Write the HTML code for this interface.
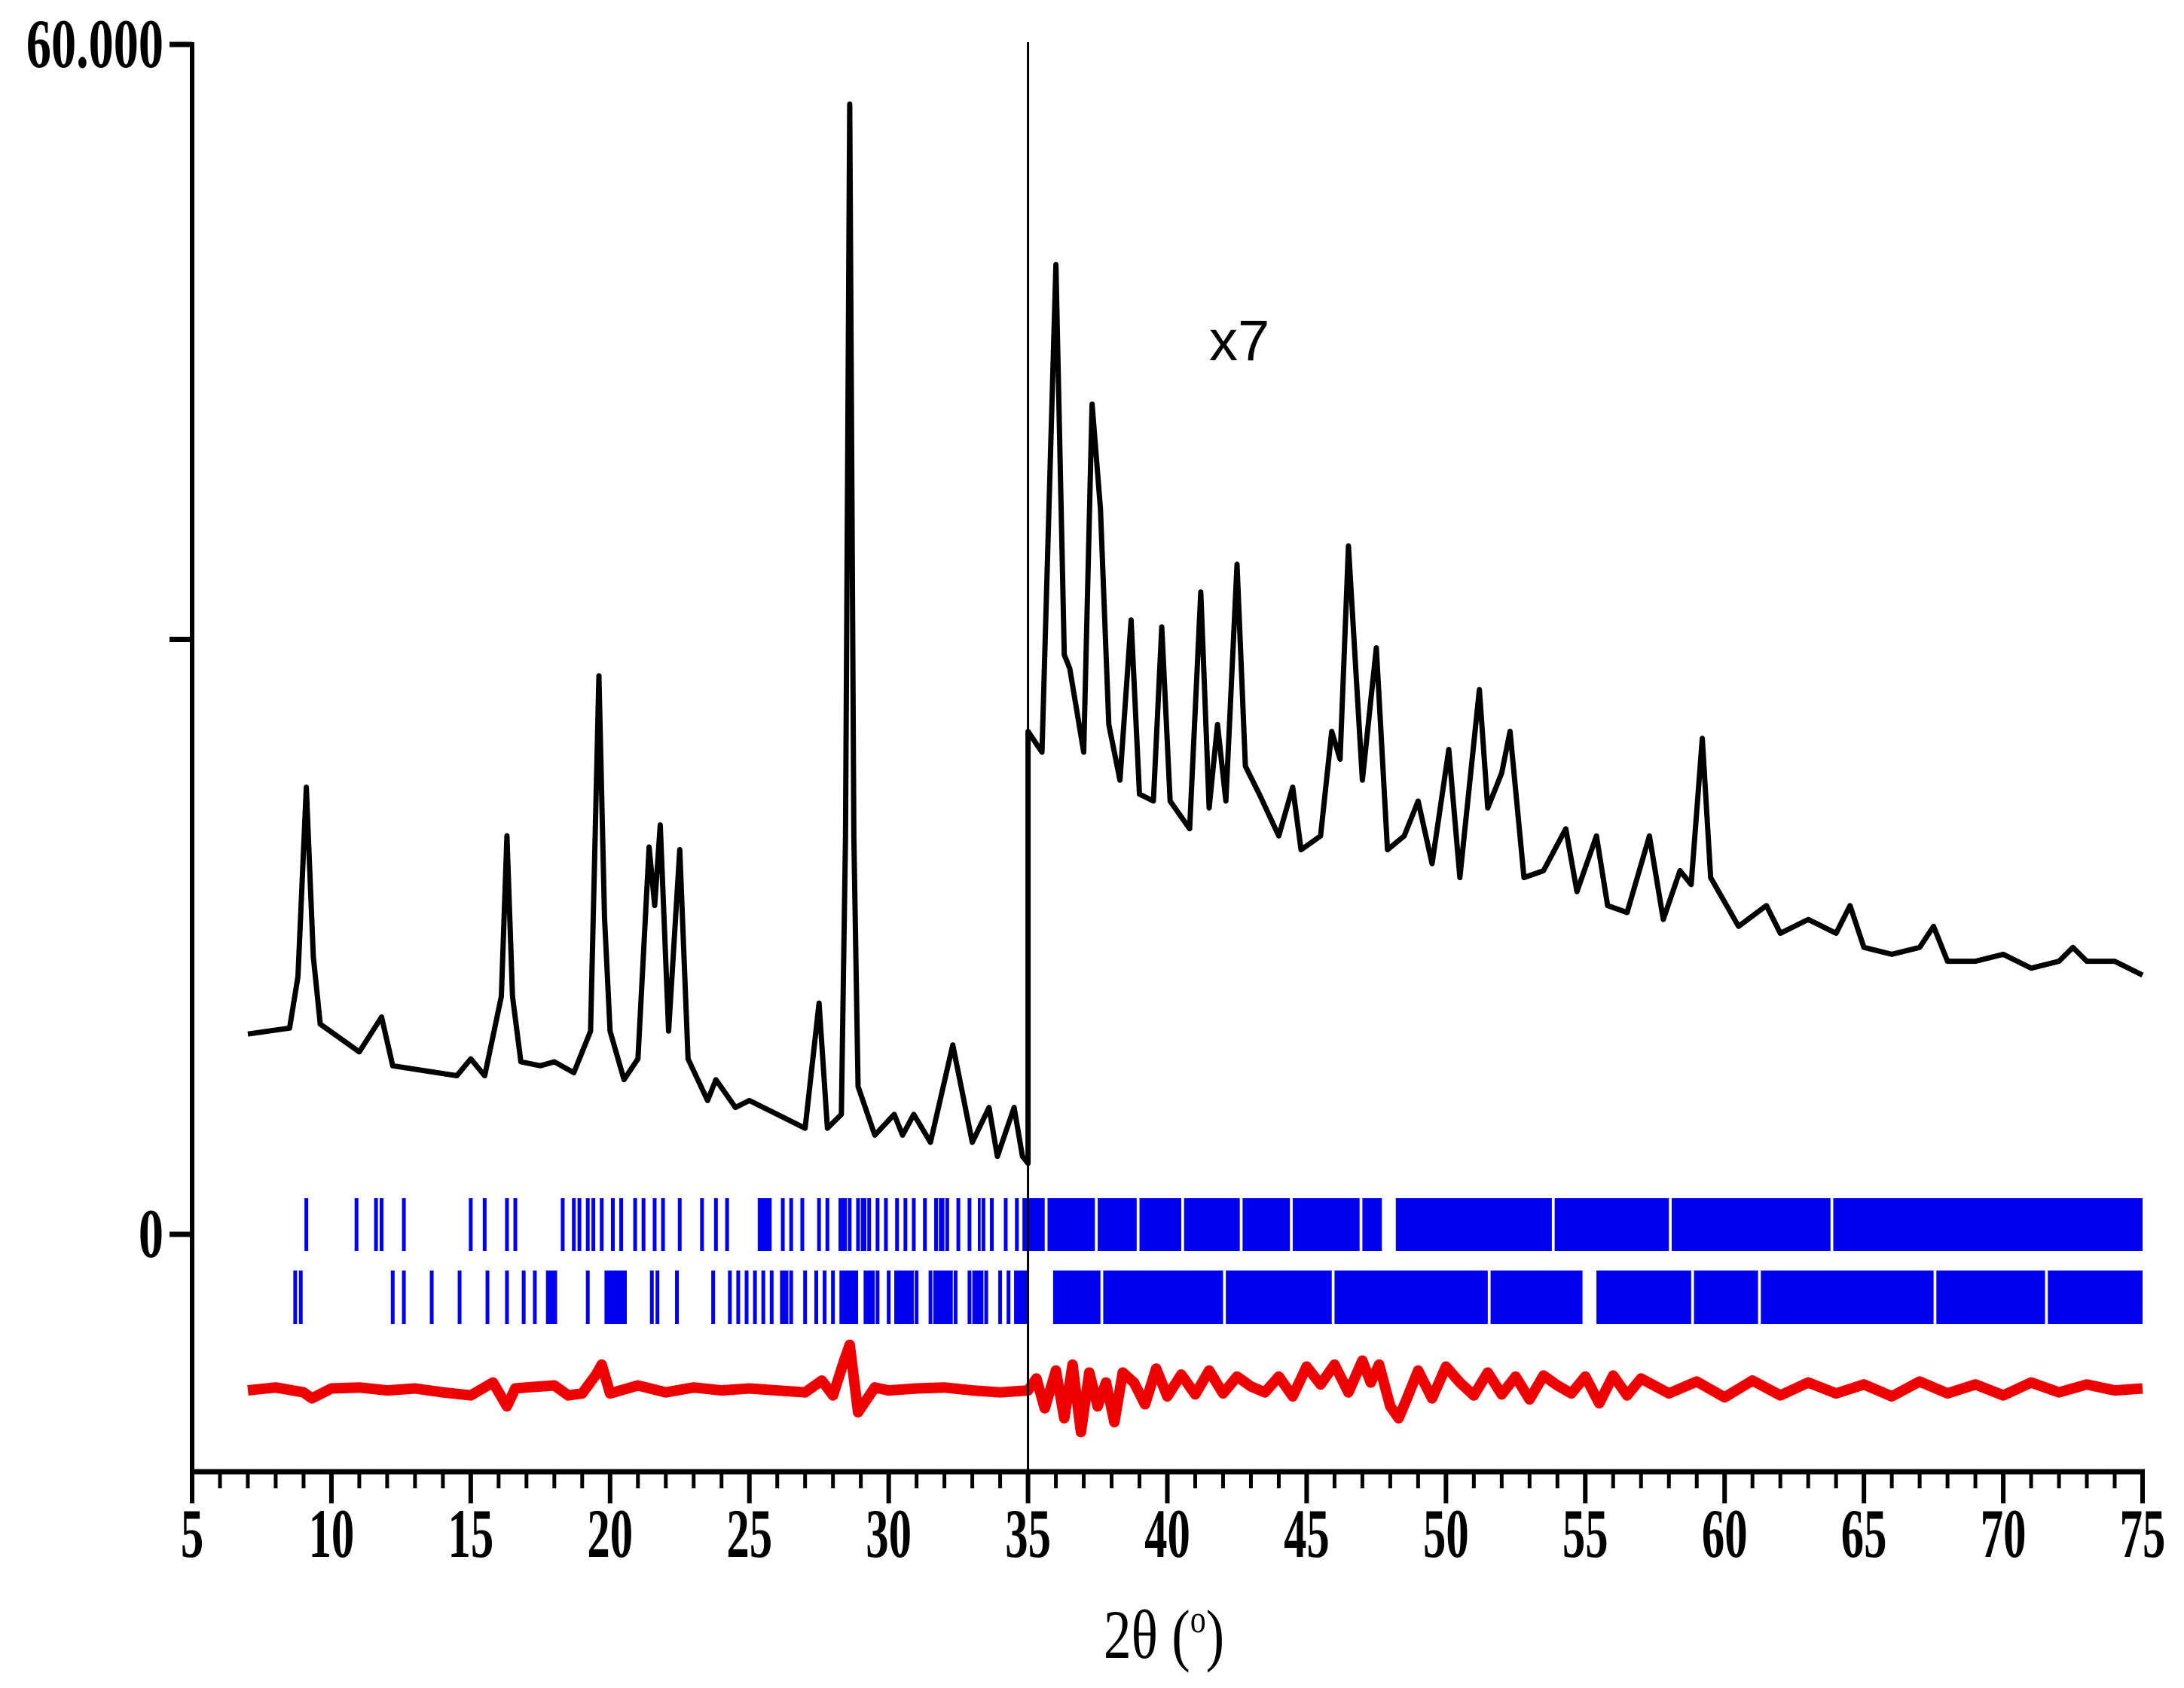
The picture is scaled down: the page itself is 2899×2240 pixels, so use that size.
<!DOCTYPE html>
<html><head><meta charset="utf-8"><style>
html,body{margin:0;padding:0;background:#fff}
svg{display:block}
.tl{font-family:"Liberation Serif",serif;font-weight:bold;font-size:92px}
</style></head><body>
<svg id="chart" width="2899" height="2240" viewBox="0 0 2899 2240" xmlns="http://www.w3.org/2000/svg">
<g id="marks"></g>
<g id="axes"></g>
</svg>
<script>
// observed pattern (2theta, intensity); values above 35 deg are shown scaled x7
const obsX = [7,8.5,8.8,9.1,9.35,9.6,11,11.8,12.2,14.5,15,15.5,16.1,16.3,16.5,16.8,17.5,18,18.7,19.3,19.6,19.8,20.0,20.5,21,21.4,21.6,21.8,22.1,22.5,22.8,23.5,23.8,24.5,25,26,27,27.5,27.8,28.3,28.45,28.6,28.75,28.9,29.5,30.2,30.5,30.9,31.5,32.3,32.6,33,33.6,33.9,34.5,34.8,35,
35,35.5,36,36.3,36.5,37,37.3,37.6,37.9,38.3,38.7,39,39.5,39.8,40.1,40.8,41.2,41.5,41.8,42.1,42.5,42.8,43.3,44,44.5,44.8,45.5,45.9,46.2,46.5,47,47.5,47.9,48.5,49,49.5,50.1,50.5,51.2,51.5,52,52.3,52.8,53.5,54.3,54.7,55.4,55.8,56.5,57.3,57.8,58.4,58.8,59.2,59.5,60.5,61.5,62,63,64,64.5,65,66,67,67.5,68,69,70,71,72,72.5,73,74,75];
const obsY = [10100,10400,13000,22550,14000,10600,9200,10960,8500,8000,8850,8000,12000,20100,12000,8700,8500,8700,8150,10250,28170,16000,10250,7800,8850,19530,16580,20650,10250,19400,8850,6750,7800,6400,6750,6050,5350,11660,5350,6050,20000,57000,20000,7450,5000,6050,5000,6050,4640,9550,7450,4640,6400,3930,6400,3930,3580,
25360,24310,48900,29230,28530,24310,41870,36600,25710,22900,30980,22200,21850,30630,21850,20450,32390,21500,25710,21850,33790,23610,22200,20090,22550,19390,20090,25360,23960,34710,22900,29580,19390,20090,21850,18690,24450,17990,27470,21500,23260,25360,17990,18340,20450,17280,20090,16580,16230,20090,15880,18340,17640,25010,17990,15530,16580,15180,15880,15180,16580,14470,14120,14470,15530,13770,13770,14120,13420,13770,14470,13770,13770,13070];
// difference curve
const resX = [7,8,9,9.3,10,11,12,13,14,15,15.8,16.3,16.6,17,18,18.5,19,19.5,19.7,20,21,22,23,24,25,26,27,27.6,28,28.4,28.6,28.9,29.5,30,31,32,33,34,35,35.3,35.6,36,36.3,36.6,36.9,37.2,37.5,37.8,38.1,38.4,38.8,39.2,39.6,40,40.5,41,41.5,42,42.5,43,43.5,44,44.5,45,45.5,46,46.5,47,47.3,47.6,48,48.3,48.6,49,49.5,50,50.5,51,51.5,52,52.5,53,53.5,54,54.5,55,55.5,56,56.5,57,58,59,60,61,62,63,64,65,66,67,68,69,70,71,72,73,74,75];
const resY = [0,150,-100,-400,100,150,0,100,-100,-250,400,-800,100,150,250,-250,-150,800,1300,-150,250,-100,150,0,100,0,-100,500,-250,1500,2300,-1100,150,0,100,150,0,-100,0,600,-900,1000,-1400,1300,-2100,900,-800,400,-1600,900,400,-700,1100,-300,800,-200,1000,-150,700,200,-100,700,-300,1200,300,1300,-100,1500,400,1300,-800,-1400,-400,1000,-400,1200,400,-250,900,-200,700,-450,750,250,-150,700,-650,750,-250,600,-150,450,-350,500,-250,400,-150,300,-300,450,-150,300,-250,400,-100,300,0,100];
// reflection markers (phase 1 & 2): single lines and dense filled ranges
const phase1Lines = [9.1,10.9,11.6,11.8,12.6,15.0,15.5,16.3,16.6,18.3,18.7,18.9,19.2,19.4,19.7,20.1,20.4,20.9,21.2,21.6,21.9,22.5,23.3,23.8,24.2,25.4,25.6,26.2,26.5,26.9,27.5,27.8,28.6,28.9,29.3,29.6,29.9,30.3,30.6,30.9,31.3,31.7,32.1,32.5,32.9,33.4,33.7,34.2,34.6];
const phase1Ranges = [[25.3,25.8],[28.2,28.5],[29.0,29.2],[31.8,32.0],[33.2,33.3],[34.8,35.6],[35.7,37.4],[37.5,38.9],[39.0,40.5],[40.6,42.6],[42.7,44.4],[44.5,46.9],[47.0,47.7],[48.2,53.8],[53.9,58.0],[58.1,63.8],[63.9,75]];
const phase2Lines = [8.7,8.9,12.2,12.6,13.6,14.6,15.6,16.3,16.9,17.3,19.2,21.5,21.7,22.4,23.7,24.3,24.6,24.9,25.2,25.5,25.8,26.5,27.0,27.4,27.7,28.0,28.3,28.7,29.6,30.0,31.0,31.5,32.4,32.9,33.5,34.0,34.3];
const phase2Ranges = [[17.7,18.1],[19.8,20.6],[26.1,26.4],[28.3,28.9],[29.1,29.5],[30.2,30.9],[31.6,32.3],[33.0,33.4],[34.5,35.0],[35.9,37.6],[37.7,42.0],[42.1,45.9],[46.0,51.5],[51.6,54.9],[55.4,58.8],[58.9,61.2],[61.3,67.5],[67.6,71.5],[71.6,75]];
const xTicks = [5,10,15,20,25,30,35,40,45,50,55,60,65,70,75];

const X0=255, X1=2844, XMIN=5, XMAX=75;
const Y0=1638, YTOP=59, YMAXV=60000;
const sx = v => X0 + (v-XMIN)*(X1-X0)/(XMAX-XMIN);
const sy = v => Y0 - v*(Y0-YTOP)/YMAXV;
const NS="http://www.w3.org/2000/svg";
const marks=document.getElementById('marks'), axes=document.getElementById('axes');
function mk(tag,attrs,parent){const e=document.createElementNS(NS,tag);for(const k in attrs)e.setAttribute(k,attrs[k]);parent.appendChild(e);return e;}

let d=obsX.map((x,i)=>(i?'L':'M')+sx(x).toFixed(1)+','+sy(obsY[i]).toFixed(1)).join('');
const obs=mk('path',{d:d,fill:'none',stroke:'#000','stroke-width':7,'stroke-linejoin':'round'},marks);



const RES0=-7870;
d=resX.map((x,i)=>(i?'L':'M')+sx(x).toFixed(1)+','+sy(RES0+resY[i]).toFixed(1)).join('');
const res=mk('path',{d:d,fill:'none',stroke:'#ee0000','stroke-width':14,'stroke-linejoin':'round'},marks);



function drawPhase(lines,ranges,y1,y2,name){
  const g=mk('g',{},marks);
  
  
  lines.forEach(v=>{const l=mk('rect',{x:sx(v)-2.5,y:y1,width:5,height:y2-y1,fill:'#0000ee'},g);
    
    });
  ranges.forEach(r=>{const l=mk('rect',{x:sx(r[0]),y:y1,width:sx(r[1])-sx(r[0]),height:y2-y1,fill:'#0000ee'},g);
    
    });
}
drawPhase(phase1Lines,phase1Ranges,1590,1660,'phase1-reflections');
drawPhase(phase2Lines,phase2Ranges,1686,1757,'phase2-reflections');

const dv=mk('line',{x1:sx(35),x2:sx(35),y1:56,y2:1953,stroke:'#000','stroke-width':3},marks);



const XA=1953;
const ya=mk('line',{x1:X0,x2:X0,y1:YTOP-3,y2:XA+3,stroke:'#000','stroke-width':6},axes);


const xa=mk('line',{x1:X0-3,x2:X1+3,y1:XA,y2:XA,stroke:'#000','stroke-width':7},axes);


for(let v=XMIN; v<=XMAX; v++){
  const major=v%5===0;
  const t=mk('line',{x1:sx(v),x2:sx(v),y1:XA,y2:XA+(major?42:22),stroke:'#000','stroke-width':major?6:5},axes);
  
  
}
xTicks.forEach(v=>{
  const t=mk('text',{x:0,y:0,'text-anchor':'middle',class:'tl',transform:`translate(${sx(v)},2066) scale(0.66,1)`},axes);
  t.textContent=String(v);
  
  
});
[[60000,'60.000'],[30000,''],[0,'0']].forEach(p=>{
  const t=mk('line',{x1:X0-30,x2:X0,y1:sy(p[0]),y2:sy(p[0]),stroke:'#000','stroke-width':7},axes);
  
  
  if(p[1]){
    const l=mk('text',{x:0,y:0,'text-anchor':'end',class:'tl',transform:`translate(${X0-38},${sy(p[0])+30}) scale(0.72,1)`},axes);
    l.textContent=p[1];
    
    
  }
});
const ttl=mk('text',{x:0,y:0,'text-anchor':'middle','font-family':'Liberation Serif, serif','font-size':92,transform:'translate(1545,2200) scale(0.8,1)'},axes);
ttl.textContent='2θ (';
const sup=mk('tspan',{'font-size':52,dy:-34},ttl); sup.textContent='o';
const cl=mk('tspan',{dy:34},ttl); cl.textContent=')';


const x7=mk('text',{x:1605,y:478,'font-family':'Liberation Sans, sans-serif','font-size':76},axes);
x7.textContent='x7';


</script>
</body></html>
